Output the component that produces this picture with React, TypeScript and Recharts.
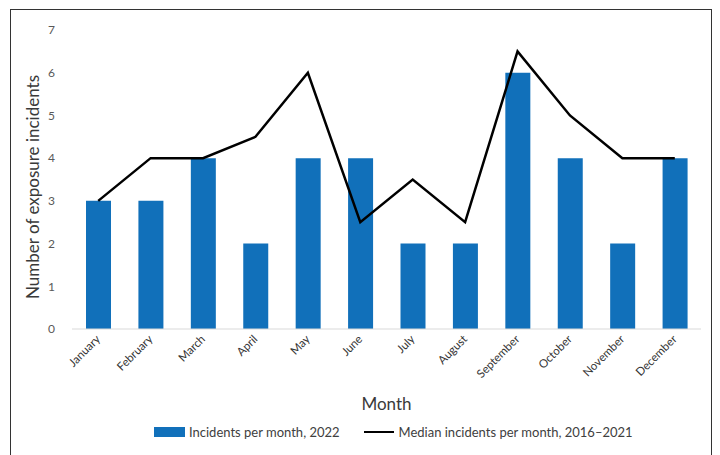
import React from "react";
import {
  ComposedChart,
  Bar,
  Line,
  XAxis,
  YAxis,
  Legend,
} from "recharts";

const months = [
  "January",
  "February",
  "March",
  "April",
  "May",
  "June",
  "July",
  "August",
  "September",
  "October",
  "November",
  "December",
];
const incidents2022 = [3, 3, 4, 2, 4, 4, 2, 2, 6, 4, 2, 4];
const median2016to2021 = [3, 4, 4, 4.5, 6, 2.5, 3.5, 2.5, 6.5, 5, 4, 4];
const yTicks = [0, 1, 2, 3, 4, 5, 6, 7];

const data = months.map((month, i) => ({
  month,
  incidents: incidents2022[i],
  median: median2016to2021[i],
}));

const FONT = "Lato, 'Noto Sans', sans-serif";
const BLUE = "#1170BA";

const MonthTick = (props: any) => {
  const { x, y, payload } = props;
  return (
    <g transform={`translate(${x},${y})`}>
      <text
        x={0}
        y={0}
        dy={4}
        textAnchor="end"
        transform="rotate(-45)"
        fill="#333"
        fontSize={11.5}
        fontFamily={FONT}
      >
        {payload.value}
      </text>
    </g>
  );
};

const YTitle = () => (
  <text
    x={0}
    y={0}
    transform="translate(39,187) rotate(-90)"
    textAnchor="middle"
    fill="#3a3a3a"
    fontSize={17}
    fontFamily={FONT}
  >
    Number of exposure incidents
  </text>
);

const LegendContent = () => (
  <div
    style={{
      display: "flex",
      alignItems: "center",
      justifyContent: "flex-start",
      fontFamily: FONT,
      fontSize: 13,
      color: "#404040",
      paddingLeft: 154,
    }}
  >
    <span
      style={{
        display: "inline-block",
        width: 31,
        height: 10,
        background: BLUE,
        marginRight: 4,
      }}
    />
    <span>Incidents per month, 2022</span>
    <span
      style={{
        display: "inline-block",
        width: 30,
        height: 0,
        borderTop: "2.5px solid #000",
        marginLeft: 24,
        marginRight: 5,
      }}
    />
    <span>Median incidents per month, 2016–2021</span>
  </div>
);

export default function App() {
  return (
    <div
      style={{
        position: "absolute",
        left: 0,
        top: 0,
        width: 720,
        height: 455,
        overflow: "hidden",
        background: "#fff",
      }}
    >
      <div
        style={{
          position: "absolute",
          left: 10,
          top: 9,
          width: 700,
          height: 470,
          border: "1.5px solid #333",
        }}
      />
      <div style={{ position: "absolute", left: 0, top: 0 }}>
        <ComposedChart
          width={720}
          height={455}
          data={data}
          margin={{ top: 30, right: 19, bottom: 41, left: 20 }}
          barSize={25}
        >
          <XAxis
            dataKey="month"
            interval={0}
            height={85}
            tickLine={false}
            axisLine={{ stroke: "#d9d9d9", strokeWidth: 1 }}
            tick={<MonthTick />}
            label={{
              value: "Month",
              position: "insideBottom",
              offset: 4,
              fill: "#3a3a3a",
              fontSize: 17,
              fontFamily: FONT,
            }}
          />
          <YAxis
            width={52}
            domain={[0, 7]}
            ticks={yTicks}
            interval={0}
            axisLine={false}
            tickLine={false}
            tickMargin={11}
            tick={{ fill: "#595959", fontSize: 12, fontFamily: FONT }}
            label={<YTitle />}
          />
          <Bar
            dataKey="incidents"
            fill={BLUE}
            isAnimationActive={false}
            name="Incidents per month, 2022"
          />
          <Line
            dataKey="median"
            type="linear"
            stroke="#000"
            strokeWidth={2.5}
            dot={false}
            activeDot={false}
            isAnimationActive={false}
            name="Median incidents per month, 2016–2021"
          />
          <Legend
            verticalAlign="middle"
            layout="horizontal"
            wrapperStyle={{ top: 424, left: 0, width: 720 }}
            content={<LegendContent />}
          />
        </ComposedChart>
      </div>
    </div>
  );
}
